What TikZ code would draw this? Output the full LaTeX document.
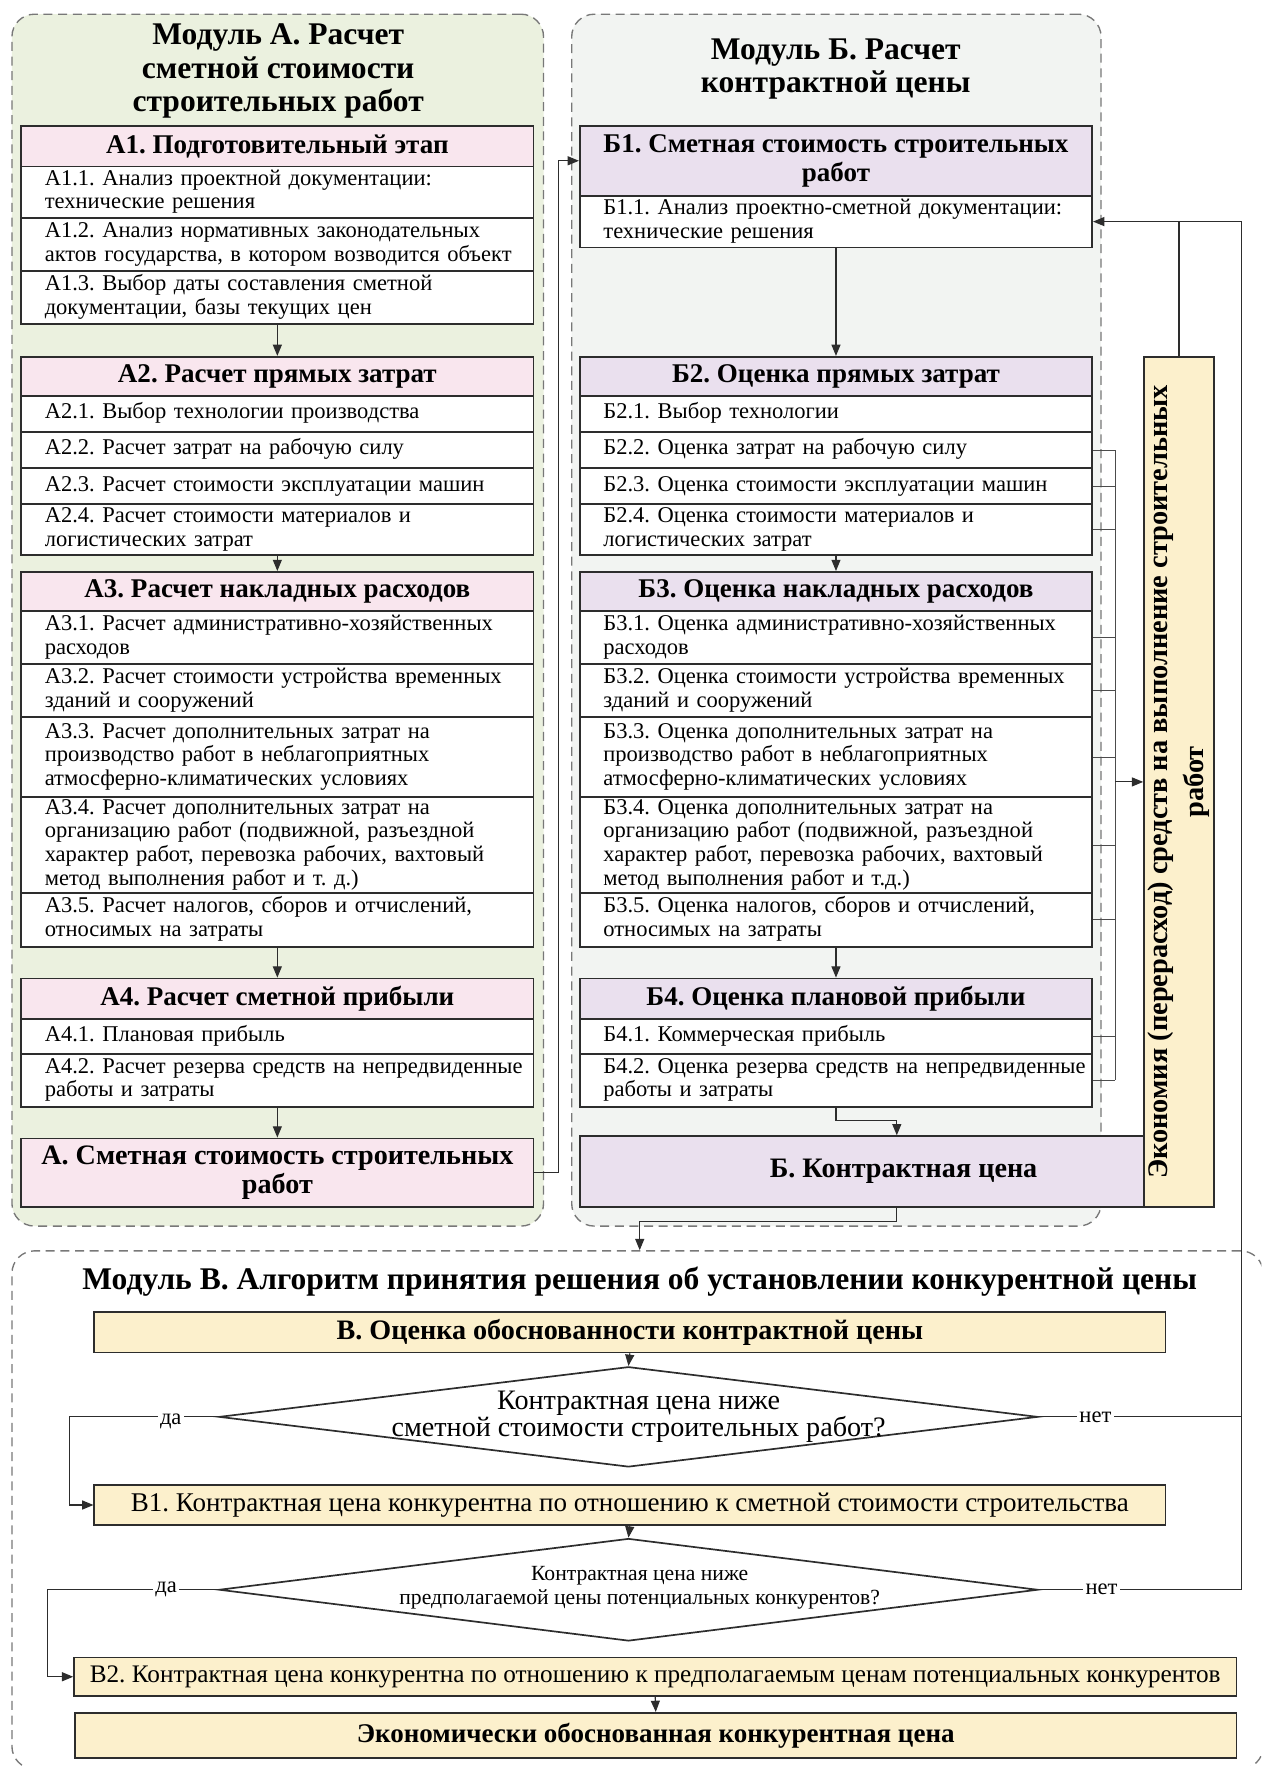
\documentclass[tikz,border=0pt]{standalone}
\usepackage{fontspec}
\setmainfont{Liberation Serif}
\usetikzlibrary{arrows.meta,shapes.geometric,calc}
\definecolor{greenbg}{RGB}{235,241,223}
\definecolor{graybg}{RGB}{242,244,242}
\definecolor{pinkh}{RGB}{249,230,238}
\definecolor{lavh}{RGB}{234,224,238}
\definecolor{yelb}{RGB}{252,240,204}
\definecolor{bord}{RGB}{45,45,45}
\definecolor{dashc}{RGB}{120,120,120}
\newcommand{\fs}[2]{\fontsize{#1}{#2}\selectfont}
\newcommand{\tl}[1]{\begin{tabular}{@{}l@{}}#1\end{tabular}}
\frenchspacing
\begin{document}
\frenchspacing
\begin{tikzpicture}[x=0.5pt,y=-0.5pt,
  cont/.style={draw=dashc, dash pattern=on 4pt off 2.5pt, line width=0.6pt, rounded corners=10pt, anchor=north west, inner sep=0pt},
  hdr/.style={draw=bord, line width=0.75pt, anchor=north west, minimum width=227.5pt, inner sep=0pt, font=\bfseries\fs{12}{13}, align=center},
  itm/.style={draw=bord, fill=white, line width=0.75pt, anchor=north west, minimum width=227.5pt, text width=206.5pt, inner xsep=10.5pt, inner ysep=0pt, align=left, font=\fs{10}{10.5}},
  ybox/.style={draw=bord, fill=yelb, line width=0.75pt, anchor=north west, inner sep=0pt, align=center},
  ttl/.style={font=\bfseries\fs{14}{15}, align=center, inner sep=0pt},
  conn/.style={draw=bord, line width=0.5pt},
  arr/.style={conn, -{Triangle[length=5pt,width=4pt]}},
  tick/.style={draw=black!70, line width=0.4pt},
  dia/.style={diamond, draw=bord, fill=white, line width=0.75pt, inner sep=0pt},
  lbl/.style={fill=white, inner sep=1pt, font=\fs{10}{11}},
]
\useasboundingbox (0,0) rectangle (1120,1568);
\clip (0,0) rectangle (1120,1568);

% containers
\node[cont, fill=greenbg, minimum width=236pt, minimum height=538pt] (modA) at (10,12) {};
\node[cont, fill=graybg, minimum width=235pt, minimum height=538pt] (modB) at (507,12) {};
\node[cont, minimum width=555.5pt, minimum height=230pt] (modV) at (10,1110) {};

% titles
\node[ttl] (tA) at (247,63) {Модуль А. Расчет\\сметной стоимости\\строительных работ};
\node[ttl, font=\bfseries\fs{14}{14.5}] (tB) at (742,61.5) {Модуль Б. Расчет\\контрактной цены};
\node[ttl] (tV) at (568,1138) {Модуль В. Алгоритм принятия решения об установлении конкурентной цены};

% Module A
\node[hdr, fill=pinkh, minimum height=18pt] (A1h) at (18,111) {А1. Подготовительный этап};
\node[itm, minimum height=23pt] (A11) at (18,147) {\tl{А1.1. Анализ проектной документации:\\технические решения}};
\node[itm, minimum height=23.5pt] (A12) at (18,193) {\tl{А1.2. Анализ нормативных законодательных\\актов государства, в котором возводится объект}};
\node[itm, minimum height=23.5pt] (A13) at (18,240) {\tl{А1.3. Выбор даты составления сметной\\документации, базы текущих цен}};
\node[hdr, fill=pinkh, minimum height=17.5pt] (A2h) at (18,316) {А2. Расчет прямых затрат};
\node[itm, minimum height=16pt] (A21) at (18,351) {\tl{А2.1. Выбор технологии производства}};
\node[itm, minimum height=16pt] (A22) at (18,383) {\tl{А2.2. Расчет затрат на рабочую силу}};
\node[itm, minimum height=16pt] (A23) at (18,415) {\tl{А2.3. Расчет стоимости эксплуатации машин}};
\node[itm, minimum height=22.5pt] (A24) at (18,447) {\tl{А2.4. Расчет стоимости материалов и\\логистических затрат}};
\node[hdr, fill=pinkh, minimum height=17.5pt] (A3h) at (18,507) {А3. Расчет накладных расходов};
\node[itm, minimum height=23.5pt] (A31) at (18,542) {\tl{А3.1. Расчет административно-хозяйственных\\расходов}};
\node[itm, minimum height=23.5pt] (A32) at (18,589) {\tl{А3.2. Расчет стоимости устройства временных\\зданий и сооружений}};
\node[itm, minimum height=35.5pt] (A33) at (18,636) {\tl{А3.3. Расчет дополнительных затрат на\\производство работ в неблагоприятных\\атмосферно-климатических условиях}};
\node[itm, minimum height=42.5pt] (A34) at (18,707) {\tl{А3.4. Расчет дополнительных затрат на\\организацию работ (подвижной, разъездной\\характер работ, перевозка рабочих, вахтовый\\метод выполнения работ и т. д.)}};
\node[itm, minimum height=24pt] (A35) at (18,792) {\tl{А3.5. Расчет налогов, сборов и отчислений,\\относимых на затраты}};
\node[hdr, fill=pinkh, minimum height=18pt] (A4h) at (18,868) {А4. Расчет сметной прибыли};
\node[itm, minimum height=15.5pt] (A41) at (18,904) {\tl{А4.1. Плановая прибыль}};
\node[itm, minimum height=23.5pt] (A42) at (18,935) {\tl{А4.2. Расчет резерва средств на непредвиденные\\работы и затраты}};
\node[hdr, fill=pinkh, minimum height=30.5pt, font=\bfseries\fs{12.5}{12.5}] (Afin) at (18,1010) {А. Сметная стоимость строительных\\работ};

% Module B
\node[hdr, fill=lavh, minimum height=31pt] (B1h) at (514,111) {Б1. Сметная стоимость строительных\\работ};
\node[itm, minimum height=23pt] (B11) at (514,173) {\tl{Б1.1. Анализ проектно-сметной документации:\\технические решения}};
\node[hdr, fill=lavh, minimum height=17.5pt] (B2h) at (514,316) {Б2. Оценка прямых затрат};
\node[itm, minimum height=16pt] (B21) at (514,351) {\tl{Б2.1. Выбор технологии}};
\node[itm, minimum height=16pt] (B22) at (514,383) {\tl{Б2.2. Оценка затрат на рабочую силу}};
\node[itm, minimum height=16pt] (B23) at (514,415) {\tl{Б2.3. Оценка стоимости эксплуатации машин}};
\node[itm, minimum height=22.5pt] (B24) at (514,447) {\tl{Б2.4. Оценка стоимости материалов и\\логистических затрат}};
\node[hdr, fill=lavh, minimum height=17.5pt] (B3h) at (514,507) {Б3. Оценка накладных расходов};
\node[itm, minimum height=23.5pt] (B31) at (514,542) {\tl{Б3.1. Оценка административно-хозяйственных\\расходов}};
\node[itm, minimum height=23.5pt] (B32) at (514,589) {\tl{Б3.2. Оценка стоимости устройства временных\\зданий и сооружений}};
\node[itm, minimum height=35.5pt] (B33) at (514,636) {\tl{Б3.3. Оценка дополнительных затрат на\\производство работ в неблагоприятных\\атмосферно-климатических условиях}};
\node[itm, minimum height=42.5pt] (B34) at (514,707) {\tl{Б3.4. Оценка дополнительных затрат на\\организацию работ (подвижной, разъездной\\характер работ, перевозка рабочих, вахтовый\\метод выполнения работ и т.д.)}};
\node[itm, minimum height=24pt] (B35) at (514,792) {\tl{Б3.5. Оценка налогов, сборов и отчислений,\\относимых на затраты}};
\node[hdr, fill=lavh, minimum height=18pt] (B4h) at (514,868) {Б4. Оценка плановой прибыли};
\node[itm, minimum height=15.5pt] (B41) at (514,904) {\tl{Б4.1. Коммерческая прибыль}};
\node[itm, minimum height=23.5pt] (B42) at (514,935) {\tl{Б4.2. Оценка резерва средств на непредвиденные\\работы и затраты}};
\node[hdr, fill=lavh, minimum width=281.5pt, minimum height=31.5pt, font=\bfseries\fs{12.5}{12.5}] (Bfin) at (514,1008) {\hspace*{6pt}Б. Контрактная цена};

% economy box
\node[ybox, minimum width=31pt, minimum height=377.5pt] (eco) at (1015,316) {};
\node[rotate=90, align=center, inner sep=0pt, font=\bfseries\fs{12.6}{16}] (ecot) at (eco.center) {Экономия (перерасход) средств на выполнение строительных\\работ};

% Module V
\node[ybox, minimum width=475.5pt, minimum height=18pt, font=\bfseries\fs{12.5}{13}] (Vh) at (83,1164) {В. Оценка обоснованности контрактной цены};
\node[dia, minimum width=363.5pt, minimum height=44.5pt] (d1) at (558,1258) {};
\node[align=center, inner sep=0pt, font=\fs{12.5}{12}] (d1t) at (567,1258) {Контрактная цена ниже\\сметной стоимости строительных работ?};
\node[ybox, minimum width=475.5pt, minimum height=17.5pt, font=\fs{12}{13}] (V1) at (83,1318) {В1. Контрактная цена конкурентна по отношению к сметной стоимости строительства};
\node[dia, minimum width=363.5pt, minimum height=45.5pt] (d2) at (558,1411.5) {};
\node[align=center, inner sep=0pt, font=\fs{9.6}{10.5}] (d2t) at (568,1409.5) {Контрактная цена ниже\\предполагаемой цены потенциальных конкурентов?};
\node[ybox, minimum width=516pt, minimum height=17pt, font=\fs{11.2}{13}] (V2) at (65,1471) {В2. Контрактная цена конкурентна по отношению к предполагаемым ценам потенциальных конкурентов};
\node[ybox, minimum width=515.5pt, minimum height=20pt, font=\bfseries\fs{12}{13}] (Fin) at (66,1520) {Экономически обоснованная конкурентная цена};

% helper coordinates
\coordinate (brx) at (990,0);
\coordinate (rx) at (1102,0);
\coordinate (lx1) at (62,0);
\coordinate (lx2) at (42,0);
\coordinate (vin) at (568,1110);

% connectors A
\draw[arr] (A13.south) -- (A2h.north);
\draw[arr] (A24.south) -- (A3h.north);
\draw[arr] (A35.south) -- (A4h.north);
\draw[arr] (A42.south) -- (Afin.north);
\draw[arr] (Afin.east) -- ++(21,0) |- (B1h.west);

% connectors B
\draw[arr] (B11.south) -- (B2h.north);
\draw[arr] (B24.south) -- (B3h.north);
\draw[arr] (B35.south) -- (B4h.north);
\draw[arr] (B42.south) -- ++(0,11) -| (Bfin.north);
\draw[arr] (Bfin.south) -- ++(0,12) -| (vin);

% bracket to economy box
\foreach \n in {B22,B23,B24,B31,B32,B33,B34,B35,B41,B42}
  \draw[tick] (\n.east) -- (\n.east -| brx);
\draw[tick] (B22.east -| brx) -- (B42.east -| brx);
\draw[arr] (eco.west -| brx) -- (eco.west);

% module V connectors
\draw[arr] (Vh.south) -- (d1.north);
\draw[arr] (V1.south) -- (d2.north);
\draw[arr] (V2.south) -- (Fin.north);
\draw[arr] (d1.west) -- node[lbl, pos=0.32, yshift=-2pt] {да} (d1.west -| lx1) |- (V1.west);
\draw[arr] (d2.west) -- node[lbl, pos=0.305] {да} (d2.west -| lx2) |- (V2.west);
\draw[conn] (d1.east) -- node[lbl, pos=0.28] {нет} (d1.east -| rx);
\draw[arr] (d2.east) -- node[lbl, pos=0.31] {нет} (d2.east -| rx) -- (rx |- B11.east) -- (B11.east);
\draw[conn] (eco.north) -- (eco.north |- B11.east);
\end{tikzpicture}
\end{document}
